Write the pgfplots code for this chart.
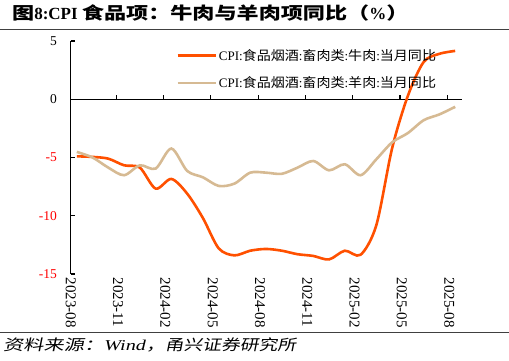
\documentclass[border=0pt]{standalone}
\usepackage{pgfplots}
\pgfplotsset{compat=1.18}
\usepackage{pgfplotstable}
\usepackage{fontspec}
\setmainfont{Liberation Serif}
\newfontfamily\cjk{Noto Sans CJK SC}[FakeStretch=1.08]
\newfontfamily\cjkT{Noto Sans CJK SC}[FakeStretch=1.3]
\newfontfamily\cjkIa{Noto Sans CJK SC}[FakeSlant=0.2,FakeStretch=1.35]
\newfontfamily\cjkIb{Noto Sans CJK SC}[FakeSlant=0.2,FakeStretch=1.25]
\newfontfamily\serifI{Liberation Serif}[FakeStretch=1.35]
\definecolor{beef}{RGB}{255,80,0}
\definecolor{mutton}{RGB}{214,186,147}

\pgfplotstableread{
i beef mutton
0 -4.9 -4.52
1 -4.95 -5.0
2 -5.1 -5.87
3 -5.67 -6.52
4 -5.87 -5.67
5 -7.67 -5.95
6 -6.84 -4.23
7 -8.1 -6.15
8 -10.2 -6.7
9 -12.8 -7.44
10 -13.4 -7.24
11 -13.0 -6.3
12 -12.85 -6.3
13 -13.0 -6.4
14 -13.3 -5.87
15 -13.45 -5.3
16 -13.75 -6.1
17 -13.0 -5.58
18 -13.35 -6.52
19 -10.8 -5.15
20 -4.2 -3.7
21 0.3 -2.9
22 3.2 -1.8
23 3.9 -1.3
24 4.15 -0.65
}\datatable

\begin{document}
\begin{tikzpicture}
\path[use as bounding box] (0,0) rectangle (509pt,360pt);
% title
\node[anchor=west,inner sep=0pt] at (12pt,347.5pt) {\fontsize{17}{20}\selectfont\bfseries{\cjkT 图}8:CPI {\cjkT 食品项：牛肉与羊肉项同比（}\%{\cjkT ）}};
\draw[line width=0.8pt,black!75] (0,331pt) -- (509pt,331pt);
\draw[line width=0.8pt,black!75] (0,28pt) -- (509pt,28pt);
\node[anchor=west,inner sep=0pt] at (3pt,15pt) {\fontsize{15}{18}\selectfont{\cjkIa 资料来源：}{\serifI\itshape Wind}{\cjkIb ，甬兴证券研究所}};

\begin{axis}[
  at={(70.5pt,86pt)}, anchor=south west,
  width=391pt, height=233pt, scale only axis,
  xmin=-0.4, xmax=24.4, ymin=-15, ymax=5,
  axis y line=left, axis x line=middle,
  axis line style={-, line width=1.2pt, black},
  xtick={2.5,5.5,...,23.5}, xticklabels={},
  ytick={-15,-10,-5,0,5},
  yticklabels={\textcolor{red}{-15},\textcolor{red}{-10},\textcolor{red}{-5},0,5},
  yticklabel style={font=\fontsize{13.5}{16}\selectfont, xshift=-10pt},
  tick style={black, line width=1.1pt},
  major tick length=4pt,
  tick align=inside,
  clip=false,
  legend style={at={(axis description cs:0.27,0.975)}, anchor=north west, draw=none, fill=none,
    font=\fontsize{13}{15}\selectfont, row sep=11pt, inner sep=0pt},
  legend cell align=left,
  legend image code/.code={\draw[#1] (0pt,0pt) -- (38pt,0pt);},
]
\addplot[beef, line width=2.6pt, smooth, tension=0.5] table[x=i,y=beef] {\datatable};
\addlegendentry{CPI:{\cjk 食品烟酒}:{\cjk 畜肉类}:{\cjk 牛肉}:{\cjk 当月同比}}
\addplot[mutton, line width=2.6pt, smooth, tension=0.5] table[x=i,y=mutton] {\datatable};
\addlegendentry{CPI:{\cjk 食品烟酒}:{\cjk 畜肉类}:{\cjk 羊肉}:{\cjk 当月同比}}
\end{axis}

\begin{axis}[
  at={(70.5pt,86pt)}, anchor=south west,
  width=391pt, height=233pt, scale only axis,
  xmin=-0.4, xmax=24.4, ymin=-15, ymax=5,
  hide y axis, axis x line*=bottom,
  x axis line style={draw=none},
  major tick length=0pt,
  xtick={0,3,...,24},
  xticklabels={2023-08,2023-11,2024-02,2024-05,2024-08,2024-11,2025-02,2025-05,2025-08},
  xticklabel style={rotate=-90, anchor=west, font=\fontsize{15}{18}\selectfont, yshift=-6pt},
]
\addplot[draw=none] coordinates {(0,0)};
\end{axis}
\end{tikzpicture}
\end{document}
